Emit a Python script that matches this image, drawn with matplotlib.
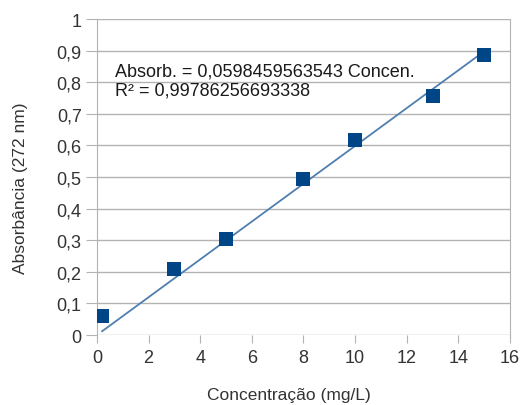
import numpy as np
import matplotlib
matplotlib.use("Agg")
import matplotlib.pyplot as plt
from matplotlib.ticker import FuncFormatter, MultipleLocator

plt.rcParams["font.family"] = ["Liberation Sans", "DejaVu Sans"]

# data
concentracao = [0.2, 3, 5, 8, 10, 13, 15]
absorbancia = [0.060, 0.208, 0.304, 0.493, 0.617, 0.755, 0.887]
slope = 0.0598459563543
r2 = 0.99786256693338
eq_label = "Absorb. = 0,0598459563543 Concen.\nR² = 0,99786256693338"

GRID = "#b3b3b3"
TXT = "#333333"

fig = plt.figure(figsize=(5.28, 4.06), dpi=100)
ax = fig.add_axes([0.1837, 0.1724, 0.9659 - 0.1837, 0.9507 - 0.1724])

x_line = np.array([min(concentracao), max(concentracao)])
ax.plot(x_line, slope * x_line, color="#4f7fb0", lw=1.3, zorder=2)
ax.scatter(concentracao, absorbancia, marker="s", s=110, color="#004586",
           zorder=3, linewidths=0)

ax.set_xlim(0, 16)
ax.set_ylim(0, 1)
ax.xaxis.set_major_locator(MultipleLocator(2))
ax.yaxis.set_major_locator(MultipleLocator(0.1))

fmt = FuncFormatter(lambda v, p: f"{v:g}".replace(".", ","))
ax.xaxis.set_major_formatter(fmt)
ax.yaxis.set_major_formatter(fmt)

ax.grid(axis="y", color=GRID, lw=1)
ax.set_axisbelow(True)
for s in ["top", "bottom"]:
    ax.spines[s].set_visible(False)
for s in ["left", "right"]:
    ax.spines[s].set_color(GRID)
ax.tick_params(axis="x", length=6, color=GRID, labelsize=13, pad=4,
               labelcolor=TXT)
ax.tick_params(axis="y", length=8, color=GRID, labelsize=13, pad=3,
               labelcolor=TXT)

ax.text(0.7, 0.804, eq_label, fontsize=13, va="center", ha="left",
        linespacing=1.15, color="#1a1a1a")

ax.set_xlabel("Concentração (mg/L)", fontsize=12.5, color=TXT)
ax.set_ylabel("Absorbância (272 nm)", fontsize=12.5, color=TXT)
ax.xaxis.set_label_coords(0.465, -0.187)
ax.yaxis.set_label_coords(-0.186, 0.468)
ax.xaxis.label.set_va("center")
ax.yaxis.label.set_va("center")

fig.savefig("out.png", dpi=100)
